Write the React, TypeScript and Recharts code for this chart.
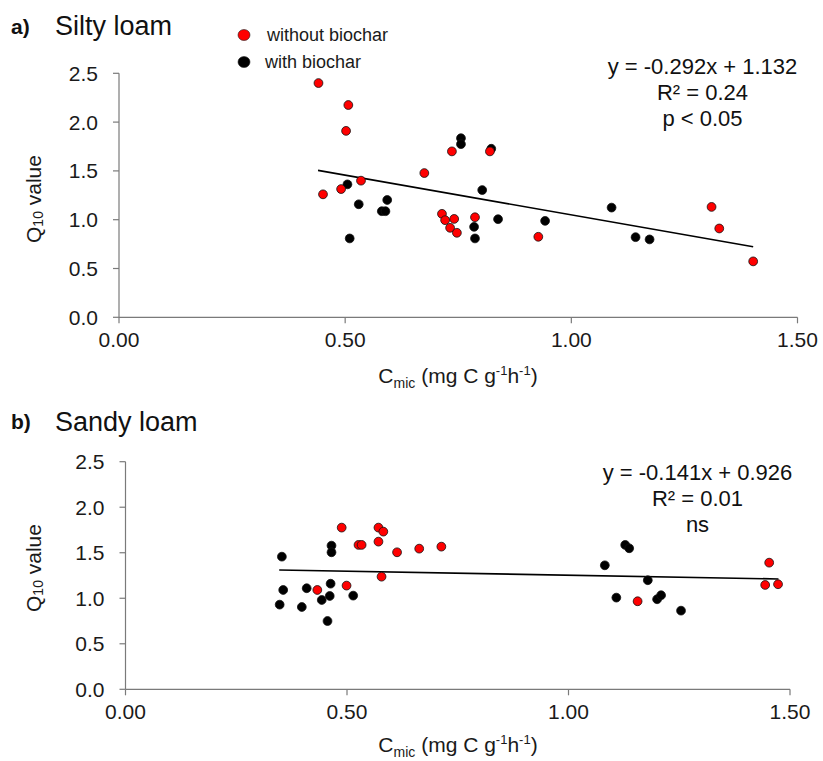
import React from 'react';
import { ScatterChart, Scatter, XAxis, YAxis, Label, Legend } from 'recharts';

const FONT = '"Liberation Sans", Arial, Helvetica, sans-serif';

const xTicks = [0, 0.5, 1.0, 1.5];
const yTicks = [0, 0.5, 1.0, 1.5, 2.0, 2.5];

const seriesNames = ['without biochar', 'with biochar'];
const seriesColors = ['#ff0000', '#000000'];

// a) Silty loam
const siltyWithoutX = [0.441, 0.507, 0.502, 0.736, 0.675, 0.535, 0.491, 0.451, 0.714, 0.721, 0.741, 0.732, 0.747, 0.820, 0.787, 0.927, 1.310, 1.327, 1.402];
const siltyWithoutY = [2.40, 2.175, 1.91, 1.70, 1.478, 1.40, 1.314, 1.26, 1.06, 0.995, 1.008, 0.917, 0.866, 1.70, 1.025, 0.825, 1.131, 0.910, 0.573];
const siltyWithX = [0.505, 0.530, 0.593, 0.581, 0.589, 0.510, 0.756, 0.756, 0.823, 0.803, 0.785, 0.787, 0.838, 0.942, 1.089, 1.142, 1.173];
const siltyWithY = [1.362, 1.158, 1.202, 1.087, 1.087, 0.808, 1.835, 1.774, 1.727, 1.304, 0.927, 0.808, 1.005, 0.988, 1.124, 0.821, 0.798];
const siltyTrendX = [0.440, 1.402];
const siltyTrendY = [1.505, 0.722];
const siltyStats = ['y = -0.292x + 1.132', 'R² = 0.24', 'p < 0.05'];

// b) Sandy loam
const sandyWithoutX = [0.488, 0.571, 0.582, 0.526, 0.533, 0.571, 0.613, 0.663, 0.713, 0.578, 0.499, 0.433, 1.156, 1.453, 1.444, 1.473];
const sandyWithoutY = [1.776, 1.776, 1.732, 1.586, 1.586, 1.622, 1.505, 1.545, 1.567, 1.237, 1.139, 1.091, 0.967, 1.391, 1.146, 1.154];
const sandyWithX = [0.353, 0.465, 0.465, 0.356, 0.409, 0.463, 0.443, 0.461, 0.514, 0.348, 0.398, 0.456, 1.128, 1.137, 1.082, 1.179, 1.108, 1.200, 1.209, 1.254];
const sandyWithY = [1.457, 1.578, 1.505, 1.091, 1.110, 1.160, 0.981, 1.025, 1.029, 0.930, 0.904, 0.750, 1.586, 1.549, 1.362, 1.198, 1.007, 0.989, 1.033, 0.864];
const sandyTrendX = [0.347, 1.474];
const sandyTrendY = [1.311, 1.212];
const sandyStats = ['y = -0.141x + 0.926', 'R² = 0.01', 'ns'];

const toPts = (xs: number[], ys: number[]) => xs.map((x, i) => ({ x, y: ys[i] }));

const makeDot = (fill: string) => (p: any) => (
  <circle cx={p.cx} cy={p.cy} r={4.4} fill={fill} stroke="#111" strokeWidth={0.8} />
);
const noDot = () => <g />;

const makeXTitle = (cx: number, baseline: number) => () => (
  <text x={cx} y={baseline} textAnchor="middle" fontFamily={FONT} fontSize={21} fill="#1a1a1a">
    <tspan>C</tspan>
    <tspan dy={5} fontSize={14}>mic</tspan>
    <tspan dy={-5}> (mg C g</tspan>
    <tspan dy={-8} fontSize={13}>-1</tspan>
    <tspan dy={8}>h</tspan>
    <tspan dy={-8} fontSize={13}>-1</tspan>
    <tspan dy={8}>)</tspan>
  </text>
);

const makeYTitle = (cx: number, cy: number) => () => (
  <text x={cx} y={cy} transform={`rotate(-90 ${cx} ${cy})`} textAnchor="middle" dominantBaseline="central" fontFamily={FONT} fontSize={21} fill="#1a1a1a">
    <tspan>Q</tspan>
    <tspan dy={5} fontSize={14}>10</tspan>
    <tspan dy={-5}> value</tspan>
  </text>
);

const legendContent = (props: any) => {
  const fromPayload = (props.payload || []).filter((e: any) => seriesNames.indexOf(e.value) >= 0);
  const items = (fromPayload.length ? fromPayload : seriesNames.map((n, i) => ({ value: n, color: seriesColors[i] })))
    .slice()
    .sort((a: any, b: any) => seriesNames.indexOf(a.value) - seriesNames.indexOf(b.value));
  return (
    <div style={{ fontFamily: FONT, fontSize: 18, color: '#1a1a1a' }}>
      {items.map((e: any, i: number) => (
        <div key={i} style={{ display: 'flex', alignItems: 'center', height: 26.5, lineHeight: '26.5px' }}>
          <svg width={14} height={14} style={{ marginRight: i === 0 ? 16 : 14 }}>
            <ellipse cx={7} cy={7} rx={6} ry={5.5} fill={seriesColors[seriesNames.indexOf(e.value)]} stroke="#222" strokeWidth={0.6} />
          </svg>
          <span>{e.value}</span>
        </div>
      ))}
    </div>
  );
};

type PanelProps = {
  top: number;
  height: number;
  margin: { top: number; right: number; bottom: number; left: number };
  without: { x: number; y: number }[];
  withB: { x: number; y: number }[];
  trend: { x: number; y: number }[];
  xTitle: [number, number];
  yTitle: [number, number];
  legend?: boolean;
};

const Panel = ({ top, height, margin, without, withB, trend, xTitle, yTitle, legend }: PanelProps) => (
  <div style={{ position: 'absolute', left: 0, top, width: 823, height }}>
    <ScatterChart width={823} height={height} margin={margin}>
      <XAxis
        dataKey="x"
        type="number"
        domain={[0, 1.5]}
        ticks={xTicks}
        interval={0}
        tickFormatter={(v: number) => v.toFixed(2)}
        tickSize={6}
        tickMargin={9}
        height={60}
        stroke="#7a7a7a"
        strokeWidth={1.2}
        tick={{ fill: '#1a1a1a', fontSize: 21, fontFamily: FONT }}
        allowDataOverflow
      >
        <Label content={makeXTitle(xTitle[0], xTitle[1])} />
      </XAxis>
      <YAxis
        dataKey="y"
        type="number"
        domain={[0, 2.5]}
        ticks={yTicks}
        interval={0}
        tickFormatter={(v: number) => v.toFixed(1)}
        tickSize={6}
        tickMargin={15}
        width={60}
        stroke="#7a7a7a"
        strokeWidth={1.2}
        tick={{ fill: '#1a1a1a', fontSize: 21, fontFamily: FONT }}
        allowDataOverflow
      >
        <Label content={makeYTitle(yTitle[0], yTitle[1])} />
      </YAxis>
      {legend && (
        <Legend
          layout="horizontal"
          verticalAlign="middle"
          align="center"
          content={legendContent}
          wrapperStyle={{ position: 'absolute', left: 237, top: 22, width: 200, height: 60 }}
        />
      )}
      <Scatter name="trend" data={trend} line={{ stroke: '#000', strokeWidth: 1.6 }} shape={noDot} legendType="none" isAnimationActive={false} />
      <Scatter name={seriesNames[1]} data={withB} fill={seriesColors[1]} shape={makeDot(seriesColors[1])} isAnimationActive={false} />
      <Scatter name={seriesNames[0]} data={without} fill={seriesColors[0]} shape={makeDot(seriesColors[0])} isAnimationActive={false} />
    </ScatterChart>
  </div>
);

const txt = (fs: number, bold = false): React.CSSProperties => ({
  position: 'absolute',
  fontFamily: FONT,
  fontSize: fs,
  fontWeight: bold ? 700 : 400,
  lineHeight: `${fs}px`,
  color: '#111',
  whiteSpace: 'nowrap',
});

const Stats = ({ lines, cx, top }: { lines: string[]; cx: number; top: number }) => (
  <div style={{ ...txt(22), left: cx - 150, top, width: 300, textAlign: 'center', lineHeight: '26px' }}>
    {lines.map((l, i) => (
      <div key={i}>{l}</div>
    ))}
  </div>
);

export default function App() {
  return (
    <div style={{ position: 'absolute', left: 0, top: 0, width: 823, height: 761, background: '#fff', overflow: 'hidden' }}>
      <Panel
        top={0}
        height={390}
        margin={{ top: 73.3, right: 25.5, bottom: 12.7, left: 59 }}
        without={toPts(siltyWithoutX, siltyWithoutY)}
        withB={toPts(siltyWithX, siltyWithY)}
        trend={toPts(siltyTrendX, siltyTrendY)}
        xTitle={[458, 383]}
        yTitle={[33, 199]}
        legend
      />
      <Panel
        top={390}
        height={371}
        margin={{ top: 71.7, right: 33, bottom: 11.7, left: 65.5 }}
        without={toPts(sandyWithoutX, sandyWithoutY)}
        withB={toPts(sandyWithX, sandyWithY)}
        trend={toPts(sandyTrendX, sandyTrendY)}
        xTitle={[458, 362]}
        yTitle={[33, 178]}
      />
      <div style={{ ...txt(21, true), left: 11, top: 16 }}>a)</div>
      <div style={{ ...txt(27), left: 55, top: 13 }}>Silty loam</div>
      <Stats lines={siltyStats} cx={702.5} top={54.4} />
      <div style={{ ...txt(21, true), left: 11, top: 411 }}>b)</div>
      <div style={{ ...txt(27), left: 55, top: 409 }}>Sandy loam</div>
      <Stats lines={sandyStats} cx={697.5} top={460.4} />
    </div>
  );
}
